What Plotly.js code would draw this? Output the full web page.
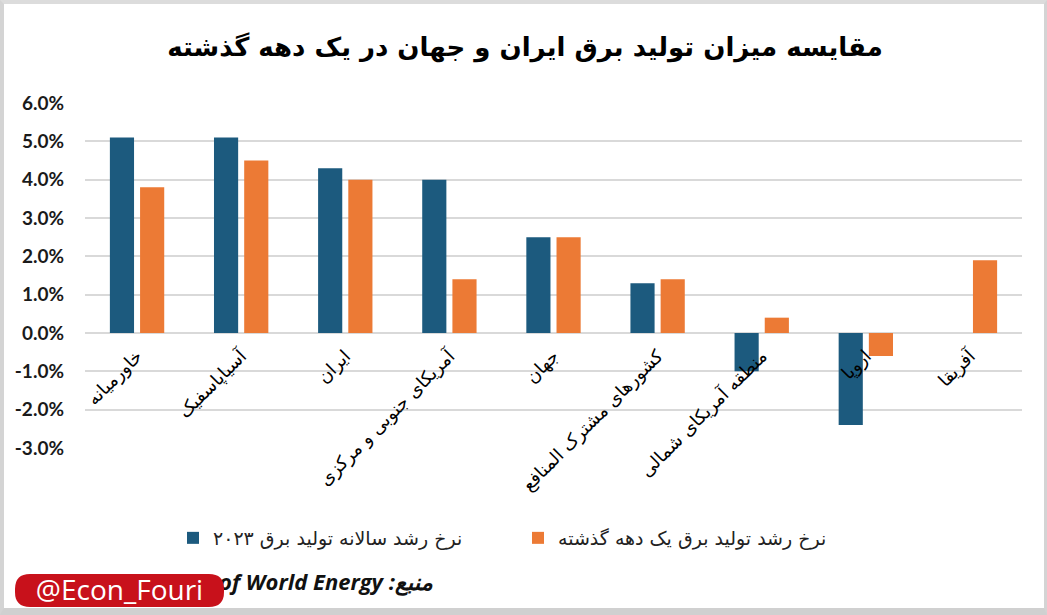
<!DOCTYPE html>
<html>
<head>
<meta charset="utf-8">
<script src="https://cdn.plot.ly/plotly-3.0.1.min.js"></script>
<style>
  html, body { margin: 0; padding: 0; background: #ffffff; }
  #wrap { position: relative; width: 1047px; height: 615px; overflow: hidden; }
  #chart { position: absolute; left: 0; top: 0; width: 1047px; height: 615px; }
  #frame { position: absolute; left: 0; top: 0; width: 1047px; height: 615px; box-sizing: border-box;
           border-left: 4px solid #d4d4d4; border-top: 4px solid #dcdcdc; border-right: 3px solid #d4d4d4;
           border-bottom: 7px solid #d0d0d0; pointer-events: none; }
</style>
</head>
<body>
<div id="wrap">
  <div id="chart"></div>
  <div id="frame"></div>
</div>
<script>
// ---- data ----
const categories = [
  "خاورمیانه",
  "آسیاپاسفیک",
  "ایران",
  "آمریکای جنوبی و مرکزی",
  "جهان",
  "کشورهای مشترک المنافع",
  "منطقه آمریکای شمالی",
  "اروپا",
  "آفریقا"
];
const growth2023 = [5.1, 5.1, 4.3, 4.0, 2.5, 1.3, -1.0, -2.4, null];
const growthDecade = [3.8, 4.5, 4.0, 1.4, 2.5, 1.4, 0.4, -0.6, 1.9];
const seriesNames = ["نرخ رشد سالانه تولید برق ۲۰۲۳", "نرخ رشد تولید برق یک دهه گذشته"];
const yTicks = [-3, -2, -1, 0, 1, 2, 3, 4, 5, 6];
const yTickText = yTicks.map(v => v.toFixed(1) + "%");
const titleText = "مقایسه میزان تولید برق ایران و جهان در یک دهه گذشته";
const sourceText = "Statistical Review of World Energy :منبع";
const watermarkText = "@Econ_Fouri";

// ---- layout helpers (pixel -> paper) ----
const W = 1047, H = 615;
const M = { l: 85, r: 25, t: 103, b: 167 };
const PW = W - M.l - M.r, PH = H - M.t - M.b;
const px = x => (x - M.l) / PW;
const py = y => (H - M.b - y) / PH;

const faFont = "'DejaVu Sans', 'Noto Sans', sans-serif";

const traces = [
  {
    type: "bar", name: seriesNames[0], x: categories, y: growth2023,
    marker: { color: "#1c5a7e" }, hoverinfo: "x+y"
  },
  {
    type: "bar", name: seriesNames[1], x: categories, y: growthDecade,
    marker: { color: "#ec7a35" }, hoverinfo: "x+y"
  }
];

// rounded rectangle for watermark
function roundRect(x0, y0, x1, y1, r) {
  const X0 = px(x0), X1 = px(x1), Y0 = py(y0), Y1 = py(y1);
  const rx = r / PW, ry = r / PH;
  return `M ${X0 + rx},${Y0} L ${X1 - rx},${Y0} Q ${X1},${Y0} ${X1},${Y0 - ry} ` +
         `L ${X1},${Y1 + ry} Q ${X1},${Y1} ${X1 - rx},${Y1} L ${X0 + rx},${Y1} ` +
         `Q ${X0},${Y1} ${X0},${Y1 + ry} L ${X0},${Y0 - ry} Q ${X0},${Y0} ${X0 + rx},${Y0} Z`;
}

const layout = {
  width: W, height: H,
  margin: M,
  paper_bgcolor: "#ffffff", plot_bgcolor: "#ffffff",
  showlegend: true,
  title: {
    text: "<b>" + titleText + "</b>",
    x: 525 / W, xref: "container", xanchor: "center",
    y: 1 - 47 / H, yref: "container", yanchor: "middle",
    font: { family: faFont, size: 26, color: "#000000" }
  },
  barmode: "group",
  bargap: 0.42,
  bargroupgap: 0.2,
  xaxis: {
    type: "category",
    anchor: "free", position: 1 / 3,
    tickangle: -45,
    showgrid: false, showline: false, zeroline: false, ticks: "",
    tickfont: { family: faFont, size: 18, color: "#000000" },
    ticklabelstandoff: 8
  },
  yaxis: {
    range: [-3, 6],
    tickvals: yTicks,
    ticktext: yTickText,
    showgrid: true, gridcolor: "#d9d9d9", gridwidth: 2,
    zeroline: true, zerolinecolor: "#d9d9d9", zerolinewidth: 2,
    showline: false, ticks: "",
    ticklabelstandoff: 20,
    tickfont: { family: "Lato, 'Open Sans', sans-serif", size: 19, color: "#1a1a1a", weight: "bold" }
  },
  legend: {
    orientation: "h",
    x: px(173), xanchor: "left",
    y: py(538), yanchor: "middle",
    font: { family: faFont, size: 19, color: "#222222" },
    entrywidth: 300, entrywidthmode: "pixels",
    traceorder: "normal",
    itemclick: false
  },
  shapes: [
    {
      type: "rect", xref: "paper", yref: "paper",
      x0: px(100), x1: px(436), y0: py(598), y1: py(568),
      line: { width: 0 }, fillcolor: "rgba(0,0,0,0)",
      label: {
        text: "<b><i>" + sourceText + "</i></b>",
        textposition: "middle right",
        font: { family: "'Open Sans', 'DejaVu Sans', sans-serif", size: 22, color: "#111111" },
        padding: 0
      }
    },
    {
      type: "path", xref: "paper", yref: "paper",
      path: roundRect(15, 574, 224, 607, 15),
      line: { width: 0 }, fillcolor: "#c8111b",
      label: {
        text: watermarkText,
        textposition: "middle center",
        font: { family: "'Open Sans', Roboto, sans-serif", size: 28, color: "#ffffff" }
      }
    }
  ]
};

Plotly.newPlot("chart", traces, layout, { displayModeBar: false, staticPlot: true });
</script>
</body>
</html>
